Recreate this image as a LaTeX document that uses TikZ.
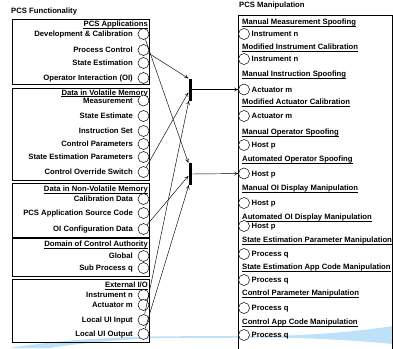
\documentclass[tikz,border=0pt]{standalone}
\usepackage{fontspec}
\setmainfont{Liberation Sans}
\usetikzlibrary{arrows.meta}
\definecolor{swoosh}{RGB}{190,225,250}
\begin{document}
\begin{tikzpicture}[x=1pt,y=-1pt,
  font=\fontsize{7.7}{8}\selectfont\bfseries,
  grp/.style={draw, line width=0.7pt},
  port/.style={circle, draw, line width=0.5pt, fill=white, minimum size=11pt, inner sep=0pt},
  ltxt/.style={anchor=base east, inner sep=0pt, yshift=-2.8pt},
  rtxt/.style={anchor=base west, inner sep=0pt, yshift=-2.8pt},
  uline/.style={line width=0.55pt},
  gate/.style={rectangle, fill=black, minimum width=3pt, minimum height=22pt, inner sep=0pt},
  conn/.style={line width=0.45pt, -{To[length=4pt,width=4pt]}}]
\useasboundingbox (0,0) rectangle (393,348);
% decorative swoosh
\fill[swoosh] (10,348) .. controls (50,341) and (110,337) .. (160,336.3) -- (270,336)
  .. controls (320,335) and (360,331) .. (393,326) -- (393,344)
  .. controls (360,341) and (320,338) .. (270,337.6) -- (160,338)
  .. controls (120,339.5) and (80,343) .. (50,348) -- cycle;
% titles
\node[rtxt] (tl) at (11,11) {PCS Functionality};
\node[rtxt] (tr) at (239,5) {PCS Manipulation};
% right panel
\draw[line width=0.7pt] (238,352) -- (238,15) -- (392.6,15) -- (392.6,352);
% left groups
\draw[grp] (12,19) rectangle (149,84);
\draw[grp] (12,88) rectangle (149,180);
\draw[grp] (12,183) rectangle (149,237);
\draw[grp] (12,238.5) rectangle (149,276);
\draw[grp] (12,279) rectangle (149,342);
% group headers
\foreach \n/\t/\y in {h1/PCS Applications/24, h2/Data in Volatile Memory/92.5,
  h3/Data in Non-Volatile Memory/189, h4/Domain of Control Authority/244,
  h5/{External I/O}/285}{
  \node[ltxt] (\n) at (148,\y) {\t};
  \draw[uline] ([yshift=-1.2pt]\n.base west) -- ([yshift=-1.2pt]\n.base east);
}
% left items
\foreach \n/\t/\y in {dc/Development \& Calibration/34, pc/Process Control/50,
  se/State Estimation/63, oi/Operator Interaction (OI)/78,
  me/Measurement/100.5, st/State Estimate/116, is/Instruction Set/131,
  cp/Control Parameters/144, sp/State Estimation Parameters/157,
  cos/Control Override Switch/172,
  cd/Calibration Data/199, ps/PCS Application Source Code/213,
  oic/OI Configuration Data/229,
  gl/Global/256, sq/Sub Process q/268,
  in/Instrument n/295, ac/Actuator m/305, lui/Local UI Input/320,
  luo/Local UI Output/334}{
  \node[port] (\n) at (143.5,\y) {};
  \node[ltxt] (\n-t) at (133,\y) {\t};
}
% right headers
\foreach \n/\t/\y in {r1/Manual Measurement Spoofing/22,
  r2/Modified Instrument Calibration/47, r3/Manual Instruction Spoofing/74,
  r4/Modified Actuator Calibration/102, r5/Manual Operator Spoofing/132,
  r6/Automated Operator Spoofing/159, r7/Manual OI Display Manipulation/188,
  r8/Automated OI Display Manipulation/217,
  r9/State Estimation Parameter Manipulation/240,
  r10/State Estimation App Code Manipulation/267,
  r11/Control Parameter Manipulation/293, r12/Control App Code Manipulation/322}{
  \node[rtxt] (\n) at (242,\y) {\t};
  \draw[uline] ([yshift=-1.2pt]\n.base west) -- ([yshift=-1.2pt]\n.base east);
}
% right items
\foreach \n/\t/\y in {p1/Instrument n/34, p2/Instrument n/59, p3/Actuator m/89.5,
  p4/Actuator m/116, p5/Host p/145, p6/Host p/173.5, p7/Host p/203, p8/Host p/226,
  p9/Process q/254, p10/Process q/280, p11/Process q/308, p12/Process q/335}{
  \node[port] (\n) at (244,\y) {};
  \node[rtxt] (\n-t) at (251.5,\y) {\t};
}
% AND gates
\node[gate] (g1) at (190,89.5) {};
\node[gate] (g2) at (190,174) {};
% connectors
\draw[conn] (pc) -- (g1.north west);
\draw[conn] (cos) -- ([yshift=-3pt]g1.west);
\draw[conn] (lui) -- ([xshift=0.5pt]g1.south west);
\draw[conn] (dc) -- (g2.north west);
\draw[conn] (oic) -- ([yshift=-2pt]g2.west);
\draw[conn] (luo) -- ([xshift=0.5pt]g2.south west);
\draw[conn] (g1.east) -- (p3.west);
\draw[conn] (g2.east) -- (p6);
\end{tikzpicture}
\end{document}
